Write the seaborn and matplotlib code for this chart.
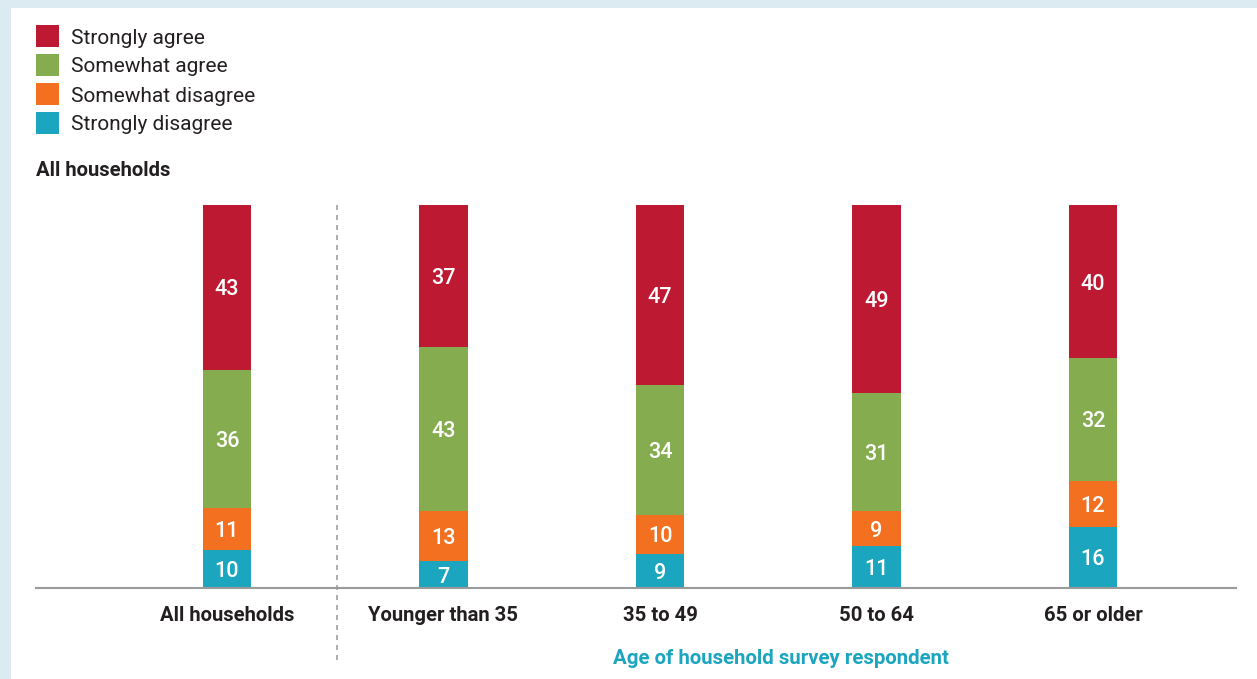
import matplotlib
matplotlib.use("Agg")
import matplotlib.pyplot as plt
from matplotlib.patches import Rectangle
import seaborn as sns
import numpy as np
import pandas as pd

# ---- data ----
categories = ["All households", "Younger than 35", "35 to 49", "50 to 64", "65 or older"]
series_names = ["Strongly agree", "Somewhat agree", "Somewhat disagree", "Strongly disagree"]
strongly_agree = [43, 37, 47, 49, 40]
somewhat_agree = [36, 43, 34, 31, 32]
somewhat_disagree = [11, 13, 10, 9, 12]
strongly_disagree = [10, 7, 9, 11, 16]
panel_title = "All households"
x_title = "Age of household survey respondent"

colors = ["#BE1932", "#86AC50", "#F37021", "#1BA5BE"]

sns.set_theme(style="white")
plt.rcParams["font.family"] = ["Roboto", "DejaVu Sans"]

W, H = 1257, 679
fig = plt.figure(figsize=(W / 100, H / 100), dpi=100)
fig.patch.set_facecolor("#DCEBF1")
# white panel
fig.patches.append(Rectangle((11 / W, 0), 1 - 11 / W, 1 - 8 / H, transform=fig.transFigure,
                             facecolor="white", edgecolor="none", zorder=-5))

ax_left, ax_right, ax_bottom, ax_top = 36, 1236, 588, 205
ax = fig.add_axes([ax_left / W, (H - ax_bottom) / H, (ax_right - ax_left) / W, (ax_bottom - ax_top) / H])
ax.set_facecolor("none")
ax.set_zorder(2)

layers = [strongly_disagree, somewhat_disagree, somewhat_agree, strongly_agree]  # bottom -> top
layer_colors = colors[::-1]
cum = np.cumsum(np.array(layers), axis=0)  # cum[i] = top of layer i

# draw from tallest (top layer) to bottom so lower ones overlay
for i in range(len(layers) - 1, -1, -1):
    df = pd.DataFrame({"cat": categories, "val": cum[i]})
    sns.barplot(data=df, x="cat", y="val", order=categories, color=layer_colors[i],
                saturation=1, width=0.222, ax=ax, errorbar=None, edgecolor="none", linewidth=0)

# value labels
for i, layer in enumerate(layers):
    for j, v in enumerate(layer):
        bottom = cum[i][j] - v
        ax.text(j, bottom + v / 2, f"{v}", ha="center", va="center_baseline", color="white",
                fontsize=15.5, fontweight="medium")

# bar spacing in px = 216.5
xl = 0 - (227 - 36) / 216.5
xr = 4 + (1236 - 1093) / 216.5
ax.set_xlim(xl, xr)
ax.set_ylim(0, 100)

for s in ["top", "right", "left"]:
    ax.spines[s].set_visible(False)
ax.spines["bottom"].set_color("#9A9A9A")
ax.spines["bottom"].set_linewidth(1.5)
ax.set_yticks([])
ax.set_ylabel("")
ax.set_xlabel("")
ax.set_xticks(range(len(categories)))
ax.set_xticklabels(categories, fontsize=14.6, fontweight="bold", color="#231F20")
ax.tick_params(axis="x", length=0, pad=13)

# dashed separator
sep_x = 0 + (337 - 227) / 216.5
ax.plot([sep_x, sep_x], [100, -(665 - 588) / 3.83], ls=(0, (3, 3)), color="#A0A0A0",
        lw=1.2, clip_on=False)

# x-axis title
fig.text(781 / W, 1 - 658 / H, x_title, ha="center", va="center", color="#1BA5BE",
         fontsize=14.7, fontweight="bold")

# panel title
fig.text(36 / W, 1 - 170 / H, panel_title, ha="left", va="center", color="#231F20",
         fontsize=14.6, fontweight="bold")

# legend
for k, (name, c) in enumerate(zip(series_names, colors)):
    yc = 36 + 29 * k
    fig.patches.append(Rectangle((36 / W, 1 - (yc + 11) / H), 23 / W, 22 / H,
                                 transform=fig.transFigure, facecolor=c, edgecolor="none", zorder=2))
    fig.text(71 / W, 1 - (yc + 2) / H, name, ha="left", va="center", color="#231F20", fontsize=15)

fig.savefig("out.png", dpi=100, facecolor=fig.get_facecolor())
